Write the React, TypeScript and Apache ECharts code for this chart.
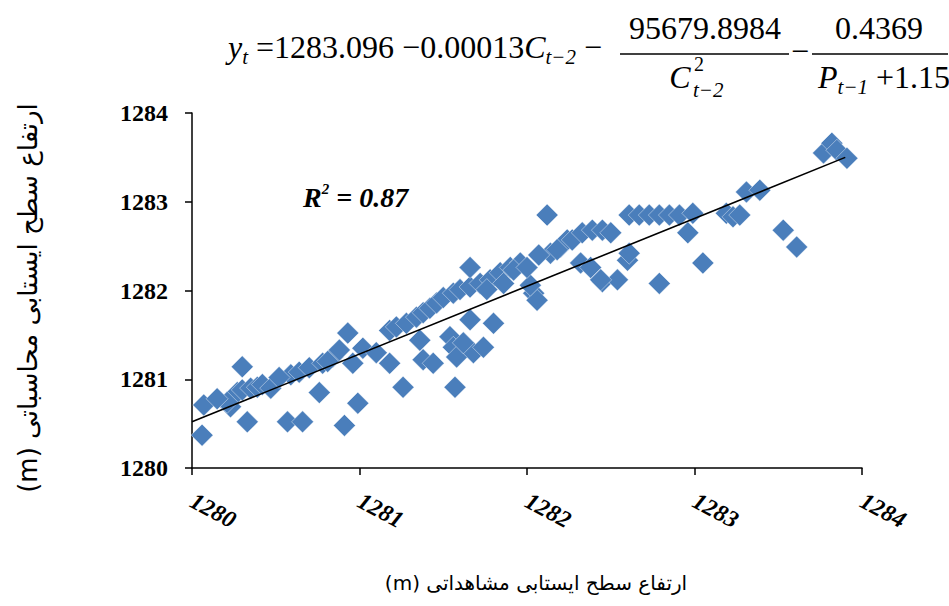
import React, { useEffect, useRef } from "react";
import * as echarts from "echarts";

// Observed groundwater level (x) and computed level (y), metres
const observedLevel = [
  1280.06, 1280.07, 1280.23, 1280.27, 1280.30, 1280.35, 1280.39, 1280.42, 1280.47, 1280.30,
  1280.33, 1280.57, 1280.66, 1280.59, 1280.64, 1280.70, 1280.76, 1280.78, 1280.84, 1280.88,
  1280.93, 1280.91, 1280.99, 1280.96, 1281.02, 1281.10, 1281.18, 1281.18, 1281.22, 1281.28,
  1281.34, 1281.38, 1281.42, 1281.46, 1281.50, 1281.56, 1281.60, 1281.66, 1281.26, 1281.36,
  1281.38, 1281.44, 1281.54, 1281.56, 1281.58, 1281.57, 1281.66, 1281.66, 1281.68, 1281.74,
  1281.80, 1281.72, 1281.78, 1281.84, 1281.90, 1281.96, 1282.04, 1282.06, 1282.02, 1282.12,
  1282.14, 1282.20, 1282.24, 1282.27, 1282.33, 1282.39, 1282.45, 1282.50, 1282.32, 1282.38,
  1282.45, 1282.54, 1282.60, 1282.61, 1282.61, 1282.67, 1282.73, 1282.79, 1282.85, 1282.91,
  1282.99, 1282.79, 1282.96, 1283.05, 1283.19, 1283.23, 1283.27, 1283.31, 1283.39, 1283.53,
  1283.61, 1283.77, 1283.82, 1283.85, 1283.91, 1281.62, 1281.76, 1281.86, 1281.92, 1282.00,
  1282.44, 1282.18, 1282.07, 1280.21, 1280.52, 1280.81, 1280.15,
];
const computedLevel = [
  1280.37, 1280.71, 1280.69, 1280.85, 1280.88, 1280.90, 1280.91, 1280.94, 1280.90, 1281.14,
  1280.52, 1280.52, 1280.52, 1281.05, 1281.08, 1281.13, 1280.85, 1281.18, 1281.25, 1281.33,
  1281.52, 1280.48, 1280.73, 1281.18, 1281.35, 1281.30, 1281.18, 1281.55, 1281.59, 1281.63,
  1281.70, 1281.75, 1281.80, 1281.86, 1281.92, 1281.97, 1282.01, 1282.04, 1280.91, 1281.44,
  1281.22, 1281.18, 1281.48, 1281.36, 1281.25, 1280.91, 1282.26, 1281.67, 1281.30, 1281.36,
  1281.63, 1282.08, 1282.12, 1282.20, 1282.26, 1282.31, 1281.97, 1281.89, 1282.06, 1282.85,
  1282.42, 1282.49, 1282.57, 1282.57, 1282.65, 1282.68, 1282.68, 1282.65, 1282.31, 1282.26,
  1282.10, 1282.12, 1282.34, 1282.42, 1282.85, 1282.85, 1282.85, 1282.85, 1282.85, 1282.85,
  1282.87, 1282.08, 1282.65, 1282.31, 1282.87, 1282.83, 1282.85, 1283.11, 1283.13, 1282.68,
  1282.49, 1283.55, 1283.66, 1283.58, 1283.49, 1281.41, 1282.01, 1282.08, 1282.23, 1282.26,
  1282.12, 1282.46, 1282.40, 1280.74, 1281.02, 1281.20, 1280.78,
];

// Linear trend line end points
const trendX = [1280, 1283.9];
const trendY = [1280.52, 1283.5];

const axisTicks = [1280, 1281, 1282, 1283, 1284];

const yTitle = "\u202Bارتفاع سطح ایستابی محاسباتی (m)\u202C";
const xTitle = "\u202Bارتفاع سطح ایستابی مشاهداتی (m)\u202C";
const r2Label = "{b|R}{sup|2}{b| = 0.87}";

const SERIF = "Liberation Serif";
const ARABIC = "DejaVu Sans";

export default function App() {
  const ref = useRef<HTMLDivElement>(null);

  useEffect(() => {
    document.body.style.margin = "0";
    const chart = echarts.init(ref.current!, null, { renderer: "svg" });

    const points = observedLevel.map((x, i) => [x, computedLevel[i]]);
    const trend = trendX.map((x, i) => [x, trendY[i]]);

    const eqBase = { fontFamily: SERIF, fill: "#000" };
    const rich = {
      n: { fontSize: 32, fontFamily: SERIF, lineHeight: 40, verticalAlign: "middle" },
      i: { fontSize: 32, fontFamily: SERIF, fontStyle: "italic", lineHeight: 40, verticalAlign: "middle" },
      sub: { fontSize: 21, fontFamily: SERIF, fontStyle: "italic", lineHeight: 21, verticalAlign: "bottom" },
    };
    const c = { align: "center", verticalAlign: "middle", textAlign: "center", textVerticalAlign: "middle" };
    const l = { align: "left", verticalAlign: "middle", textAlign: "left", textVerticalAlign: "middle" };

    const graphic: any[] = [
      {
        type: "text",
        x: 228,
        y: 47,
        style: { ...eqBase, text: "{i|y}{sub|t}{n| =1283.096 −0.00013}{i|C}{sub|t−2}{n| −}", rich, ...l },
      },
      // fraction 1
      { type: "text", x: 705, y: 28, style: { ...eqBase, text: "95679.8984", fontSize: 32, ...c } },
      { type: "line", shape: { x1: 620, y1: 54, x2: 789, y2: 54 }, style: { stroke: "#000", lineWidth: 1.5 } },
      { type: "text", x: 680, y: 77, style: { ...eqBase, text: "C", fontSize: 32, fontStyle: "italic", ...c } },
      { type: "text", x: 694, y: 64, style: { ...eqBase, text: "2", fontSize: 20, ...l } },
      { type: "text", x: 693, y: 90, style: { ...eqBase, text: "t−2", fontSize: 21, fontStyle: "italic", ...l } },
      { type: "text", x: 800, y: 51, style: { ...eqBase, text: "−", fontSize: 32, ...c } },
      // fraction 2
      { type: "text", x: 879, y: 28, style: { ...eqBase, text: "0.4369", fontSize: 32, ...c } },
      { type: "line", shape: { x1: 812, y1: 54, x2: 948, y2: 54 }, style: { stroke: "#000", lineWidth: 1.5 } },
      { type: "text", x: 818, y: 77, style: { ...eqBase, text: "{i|P}{sub|t−1}{n| +1.15}", rich, ...l } },
      // R² label
      {
        type: "text",
        x: 303,
        y: 197,
        style: {
          text: r2Label,
          fill: "#000",
          rich: {
            b: { fontSize: 28, fontFamily: SERIF, fontStyle: "italic", fontWeight: "bold", lineHeight: 32, verticalAlign: "middle" },
            sup: { fontSize: 15, fontFamily: SERIF, fontStyle: "italic", fontWeight: "bold", lineHeight: 32, verticalAlign: "top" },
          },
          ...l,
        },
      },
      // axis titles
      {
        type: "text",
        x: 28,
        y: 298,
        rotation: Math.PI / 2,
        style: { text: yTitle, fill: "#000", fontSize: 26, fontFamily: ARABIC, ...c },
      },
      {
        type: "text",
        x: 536,
        y: 583,
        style: { text: xTitle, fill: "#000", fontSize: 20, fontFamily: ARABIC, ...c },
      },
    ];

    chart.setOption({
      animation: false,
      backgroundColor: "#fff",
      grid: { left: 192, top: 113, right: 87, bottom: 138, containLabel: false, outerBoundsMode: "none" },
      xAxis: {
        type: "value",
        min: axisTicks[0],
        max: axisTicks[axisTicks.length - 1],
        interval: 1,
        axisLine: { show: true, lineStyle: { color: "#000", width: 1.5 } },
        axisTick: { show: true, length: 7, lineStyle: { color: "#000", width: 1.5 } },
        splitLine: { show: false },
        axisLabel: {
          rotate: -28,
          margin: 31,
          color: "#000",
          fontFamily: SERIF,
          fontWeight: "bold",
          fontStyle: "italic",
          fontSize: 24,
          showMinLabel: true,
          showMaxLabel: true,
          formatter: (v: number) => String(v),
        },
      },
      yAxis: {
        type: "value",
        min: axisTicks[0],
        max: axisTicks[axisTicks.length - 1],
        interval: 1,
        axisLine: { show: true, lineStyle: { color: "#000", width: 1.5 } },
        axisTick: { show: true, length: 7, lineStyle: { color: "#000", width: 1.5 } },
        splitLine: { show: false },
        axisLabel: {
          margin: 24,
          color: "#000",
          fontFamily: SERIF,
          fontWeight: "bold",
          fontSize: 24,
          formatter: (v: number) => String(v),
        },
      },
      series: [
        {
          type: "scatter",
          data: points,
          symbol: "diamond",
          symbolSize: 22,
          itemStyle: { color: "#4A7EBB", opacity: 1, borderColor: "rgba(255,255,255,0.7)", borderWidth: 0.6 },
          z: 2,
        },
        {
          type: "line",
          data: trend,
          symbol: "none",
          lineStyle: { color: "#000", width: 1.6 },
          z: 3,
        },
      ],
      graphic,
    });

    return () => chart.dispose();
  }, []);

  return (
    <div
      ref={ref}
      style={{ width: 949, height: 606, position: "absolute", left: 0, top: 0 }}
    />
  );
}
